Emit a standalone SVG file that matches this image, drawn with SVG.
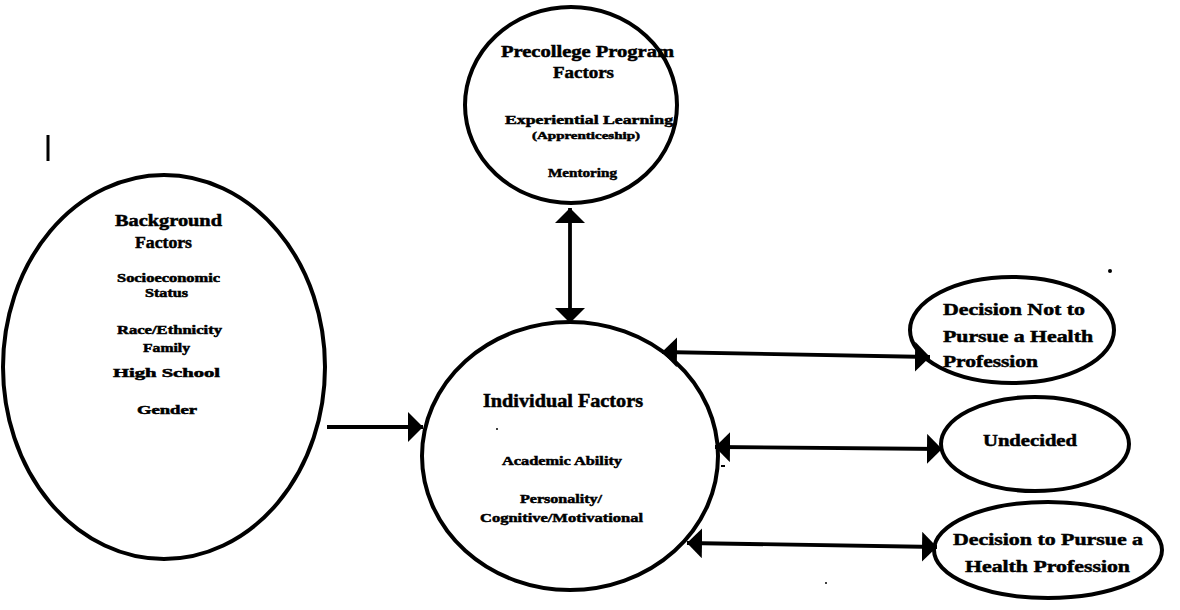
<svg xmlns="http://www.w3.org/2000/svg" width="1180" height="610" viewBox="0 0 1180 610">
  <style>
    .node { fill: none; stroke: #000; stroke-width: 4; }
    .conn { stroke: #000; stroke-width: 3.8; fill: none; }
    text { font-family: "Liberation Serif", "Times New Roman", serif; font-weight: bold; fill: #000; stroke: #000; stroke-width: 0.5; }
    .t17 { font-size: 17px; }
    .t13 { font-size: 13px; }
    .t12 { font-size: 12px; }
    .t11 { font-size: 11px; }
    .t18 { font-size: 18px; }
  </style>
  <defs>
    <marker id="ah" viewBox="0 0 15 30" refX="15" refY="15" markerWidth="15" markerHeight="30" markerUnits="userSpaceOnUse" orient="auto-start-reverse">
      <path d="M0,0 L15,15 L0,30 z" fill="#000"/>
    </marker>
  </defs>
  <rect width="1180" height="610" fill="#fff"/>

  <g id="precollege">
    <ellipse class="node" cx="571" cy="105" rx="106" ry="98"/>
    <text class="t17" x="501" y="57" textLength="173" lengthAdjust="spacingAndGlyphs">Precollege Program</text>
    <text class="t17" x="553" y="78" textLength="61" lengthAdjust="spacingAndGlyphs">Factors</text>
    <text class="t13" x="505" y="124" textLength="168" lengthAdjust="spacingAndGlyphs">Experiential Learning</text>
    <text class="t11" x="532" y="139" textLength="108" lengthAdjust="spacingAndGlyphs">(Apprenticeship)</text>
    <text class="t13" x="548" y="177" textLength="69" lengthAdjust="spacingAndGlyphs">Mentoring</text>
  </g>

  <g id="background">
    <ellipse class="node" cx="164" cy="367" rx="161" ry="192"/>
    <text class="t17" x="115" y="226" textLength="107" lengthAdjust="spacingAndGlyphs">Background</text>
    <text class="t17" x="135" y="248" textLength="57" lengthAdjust="spacingAndGlyphs">Factors</text>
    <text class="t12" x="117" y="282" textLength="103" lengthAdjust="spacingAndGlyphs">Socioeconomic</text>
    <text class="t12" x="145" y="297" textLength="43" lengthAdjust="spacingAndGlyphs">Status</text>
    <text class="t12" x="117" y="334" textLength="105" lengthAdjust="spacingAndGlyphs">Race/Ethnicity</text>
    <text class="t12" x="143" y="352" textLength="47" lengthAdjust="spacingAndGlyphs">Family</text>
    <text class="t12" x="113" y="377" textLength="107" lengthAdjust="spacingAndGlyphs">High School</text>
    <text class="t12" x="137" y="414" textLength="60" lengthAdjust="spacingAndGlyphs">Gender</text>
  </g>

  <g id="individual">
    <ellipse class="node" cx="570" cy="456" rx="148" ry="134"/>
    <text class="t18" x="483" y="407" textLength="160" lengthAdjust="spacingAndGlyphs">Individual Factors</text>
    <text class="t13" x="502" y="465" textLength="120" lengthAdjust="spacingAndGlyphs">Academic Ability</text>
    <text class="t13" x="520" y="503" textLength="82" lengthAdjust="spacingAndGlyphs">Personality/</text>
    <text class="t13" x="480" y="522" textLength="163" lengthAdjust="spacingAndGlyphs">Cognitive/Motivational</text>
  </g>

  <g id="decision-not">
    <ellipse class="node" cx="1012" cy="330" rx="102" ry="53"/>
    <text class="t17" x="943" y="315" textLength="142" lengthAdjust="spacingAndGlyphs">Decision Not to</text>
    <text class="t17" x="943" y="342" textLength="150" lengthAdjust="spacingAndGlyphs">Pursue a Health</text>
    <text class="t17" x="943" y="367" textLength="95" lengthAdjust="spacingAndGlyphs">Profession</text>
  </g>

  <g id="undecided">
    <ellipse class="node" cx="1035" cy="444" rx="94" ry="47"/>
    <text class="t17" x="983" y="446" textLength="94" lengthAdjust="spacingAndGlyphs">Undecided</text>
  </g>

  <g id="decision-pursue">
    <ellipse class="node" cx="1048" cy="550" rx="114" ry="48"/>
    <text class="t17" x="953" y="545" textLength="190" lengthAdjust="spacingAndGlyphs">Decision to Pursue a</text>
    <text class="t17" x="965" y="572" textLength="165" lengthAdjust="spacingAndGlyphs">Health Profession</text>
  </g>

  <g id="connectors">
    <line class="conn" x1="327" y1="427" x2="423" y2="427" marker-end="url(#ah)"/>
    <line class="conn" x1="570" y1="208" x2="570" y2="323" marker-start="url(#ah)" marker-end="url(#ah)"/>
    <line class="conn" x1="662" y1="352" x2="930" y2="357" marker-start="url(#ah)" marker-end="url(#ah)"/>
    <line class="conn" x1="715" y1="447" x2="942" y2="449" marker-start="url(#ah)" marker-end="url(#ah)"/>
    <line class="conn" x1="687" y1="543" x2="937" y2="547" marker-start="url(#ah)" marker-end="url(#ah)"/>
  </g>

  <g id="specks" fill="#000">
    <rect x="46.5" y="135" width="3" height="26"/>
    <circle cx="1110" cy="271" r="2"/>
    <rect x="721" y="465" width="4" height="2"/>
    <circle cx="497" cy="429" r="1"/>
    <circle cx="826" cy="583" r="1"/>
  </g>
</svg>
